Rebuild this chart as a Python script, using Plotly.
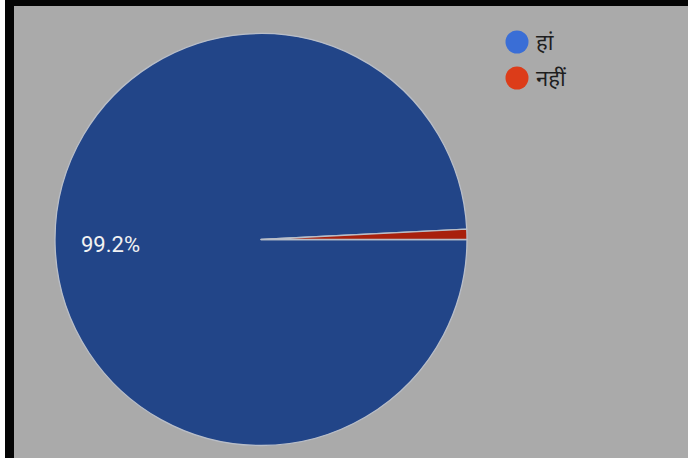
import plotly.graph_objects as go

# Survey answers and their share of responses (percent)
labels = ["हां", "नहीं"]
values = [99.2, 0.8]

slice_colors = ["#224588", "#a8200c"]
legend_colors = ["#3a6ed6", "#dc3c19"]

W, H = 696, 458

def px_x(x):
    return x / W

def px_y(y):
    return 1 - y / H

fig = go.Figure()

fig.add_trace(go.Pie(
    labels=labels,
    values=values,
    sort=False,
    direction="clockwise",
    rotation=90,
    textinfo="none",
    hoverinfo="label+percent",
    showlegend=False,
    marker=dict(colors=slice_colors, line=dict(color="#b9bec8", width=1.3)),
    domain=dict(x=[px_x(55), px_x(467)], y=[px_y(446), px_y(33)]),
))

shapes = [
    # dark frame and grey canvas
    dict(type="rect", xref="paper", yref="paper", x0=px_x(5), x1=px_x(688), y0=0, y1=1,
         fillcolor="#050505", line=dict(width=0), layer="below"),
    dict(type="rect", xref="paper", yref="paper", x0=px_x(14), x1=px_x(688), y0=0, y1=px_y(6),
         fillcolor="#aaaaaa", line=dict(width=0), layer="below"),
]

annotations = []
# legend: coloured dots with the answer text
for i, (lab, col) in enumerate(zip(labels, legend_colors)):
    cy = 42 + i * 36
    cx = 517
    r = 11.5
    shapes.append(dict(type="circle", xref="paper", yref="paper",
                       x0=px_x(cx - r), x1=px_x(cx + r), y0=px_y(cy + r), y1=px_y(cy - r),
                       fillcolor=col, line=dict(width=0), layer="above"))
    annotations.append(dict(xref="paper", yref="paper", x=px_x(534), y=px_y(cy - 1),
                            xanchor="left", yanchor="middle", showarrow=False,
                            text=lab, font=dict(size=22, color="#1e1e1e",
                                                family="Noto Sans, Roboto, sans-serif")))

# percentage label on the large slice
share = values[0] / sum(values) * 100
annotations.append(dict(xref="paper", yref="paper", x=px_x(110), y=px_y(244),
                        xanchor="center", yanchor="middle", showarrow=False,
                        text=f"{share:.1f}%",
                        font=dict(size=22, color="#f2f2f2", family="Roboto, sans-serif")))

fig.update_layout(
    width=W, height=H,
    margin=dict(l=0, r=0, t=0, b=0),
    paper_bgcolor="#ffffff",
    plot_bgcolor="#ffffff",
    shapes=shapes,
    annotations=annotations,
)

fig.write_html("out.html")
